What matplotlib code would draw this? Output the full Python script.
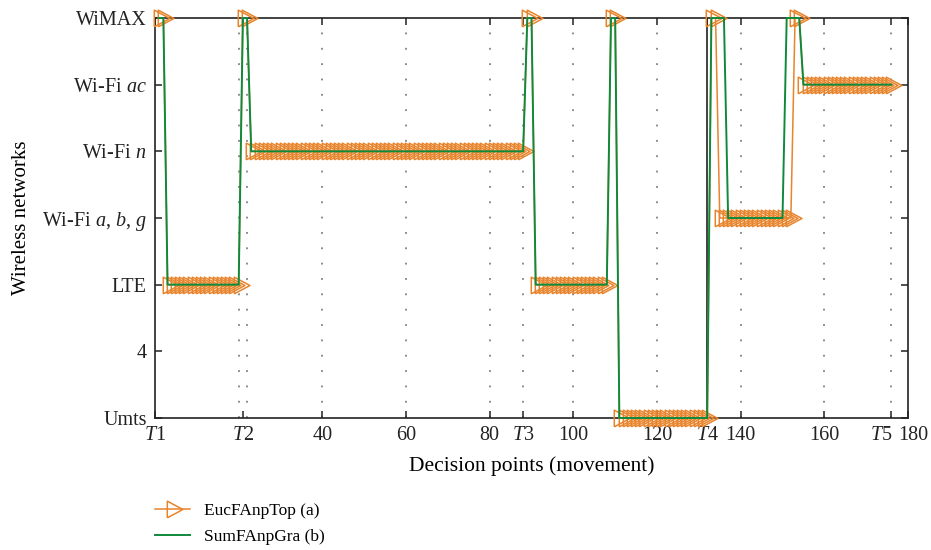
import matplotlib
matplotlib.use("Agg")
import matplotlib.pyplot as plt
import matplotlib.transforms as mtransforms
import numpy as np

plt.rcParams['font.family'] = ['Liberation Serif', 'DejaVu Serif']
plt.rcParams['mathtext.fontset'] = 'custom'
plt.rcParams['mathtext.rm'] = 'Liberation Serif'
plt.rcParams['mathtext.it'] = 'Liberation Serif:italic'

# network levels, bottom to top
networks = ['Umts', '4', 'LTE', 'Wi-Fi $a$, $b$, $g$', 'Wi-Fi $n$', 'Wi-Fi $ac$', 'WiMAX']

# run lengths (decision points 1..176)
eucfanp_runs = [2, 18, 2, 66, 2, 18, 2, 22, 2, 18, 2, 22]
eucfanp_levels = ['WiMAX', 'LTE', 'WiMAX', 'Wi-Fi $n$', 'WiMAX', 'LTE', 'WiMAX', 'Umts',
                  'WiMAX', 'Wi-Fi $a$, $b$, $g$', 'WiMAX', 'Wi-Fi $ac$']
sumfanp_runs = [2, 18, 2, 66, 2, 18, 2, 22, 4, 14, 4, 22]
sumfanp_levels = ['WiMAX', 'LTE', 'WiMAX', 'Wi-Fi $n$', 'WiMAX', 'LTE', 'WiMAX', 'Umts',
                  'WiMAX', 'Wi-Fi $a$, $b$, $g$', 'WiMAX', 'Wi-Fi $ac$']

xtick_pos = [0, 21, 40, 60, 80, 88, 100, 120, 132, 140, 160, 176, 180]
xtick_lab = ['$T$1', '$T$2', '40', '60', '80', '$T$3', '100', '120', '$T$4', '140', '160', '$T$5', '180']
grid_pos = [20, 22, 40, 60, 80, 88, 100, 120, 140, 160, 176]
t4 = 132

ORANGE = '#e8842c'
GREEN = '#0f8a3c'


def expand(runs, levels):
    vals = np.repeat([networks.index(l) for l in levels], runs)
    return np.arange(1, len(vals) + 1), vals


# gnuplot style triangle, centred on its centroid
tri = [(-1, -1.6), (2, 0), (-1, 1.6), (-1, -1.6)]

fig = plt.figure(figsize=(9.31, 5.5), dpi=100)
ax = fig.add_axes([0.1665, 0.24, 0.8088, 0.7273])

for g in grid_pos:
    ax.axvline(g, color='#808080', lw=1.3, ls=(0, (1, 7.5)), zorder=1)
ax.axvline(t4, color='#333333', lw=1.3, zorder=1)

xa, ya = expand(eucfanp_runs, eucfanp_levels)
xb, yb = expand(sumfanp_runs, sumfanp_levels)
ax.plot(xa, ya, color=ORANGE, lw=1.1, marker=tri, ms=15, mfc='none', mec=ORANGE, mew=1.1,
        label='EucFAnpTop (a)', zorder=3, clip_on=False)
ax.plot(xb, yb, color=GREEN, lw=1.4, label='SumFAnpGra (b)', zorder=4, clip_on=False)

ax.set_xlim(0, 180)
ax.set_ylim(0, 6)
ax.set_xticks(xtick_pos)
ax.set_xticklabels(xtick_lab)
ax.set_yticks(range(len(networks)))
ax.set_yticklabels(networks)
ax.tick_params(direction='in', top=True, right=True, length=5, width=1.1,
               labelsize=14.5, colors='#222222', pad=6)
for s in ax.spines.values():
    s.set_linewidth(1.2)
    s.set_color('#222222')

# nudge the crowded labels at the right end apart
labels = ax.get_xticklabels()
for lab, dx in ((labels[11], -10), (labels[12], 5)):
    lab.set_transform(lab.get_transform() + mtransforms.ScaledTranslation(dx / 100, 0, fig.dpi_scale_trans))

ax.set_xlabel('Decision points (movement)', fontsize=15.5, labelpad=8)
ax.set_ylabel('Wireless networks', fontsize=15, labelpad=8)

fig.legend(loc='upper left', bbox_to_anchor=(155 / 931, 1 - 503 / 550), bbox_transform=fig.transFigure,
           frameon=False, fontsize=12.5, handlelength=2.0, handletextpad=0.85, labelspacing=0.55,
           borderpad=0, borderaxespad=0)

fig.savefig('out.png', dpi=100)
